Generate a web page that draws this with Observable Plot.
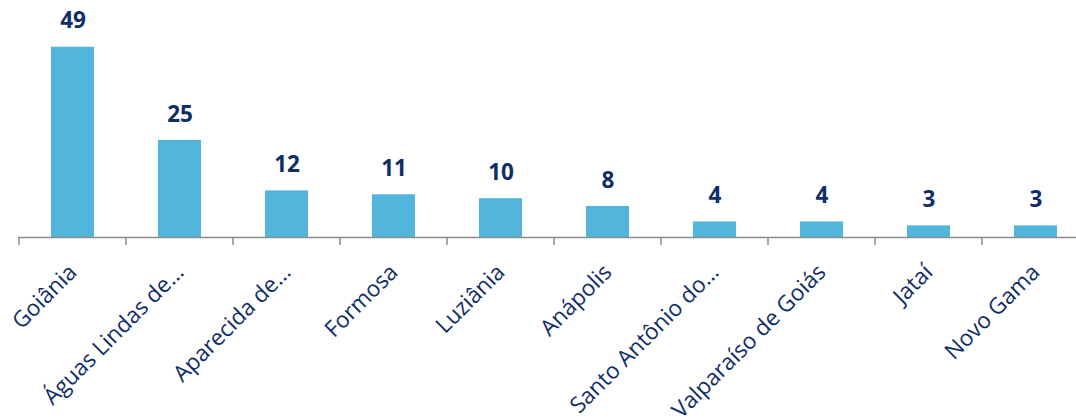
<!DOCTYPE html>
<html>
<head>
<meta charset="utf-8">
<script src="https://cdn.jsdelivr.net/npm/d3@7"></script>
<script src="https://cdn.jsdelivr.net/npm/@observablehq/plot@0.6"></script>
<style>
  html, body { margin: 0; padding: 0; background: #fff; overflow: hidden; }
  #chart svg { display: block; overflow: hidden; }
</style>
</head>
<body>
<div id="chart"></div>
<script>
const categories = ["Goiânia", "Águas Lindas de…", "Aparecida de…", "Formosa", "Luziânia", "Anápolis", "Santo Antônio do…", "Valparaíso de Goiás", "Jataí", "Novo Gama"];
const values = [49, 25, 12, 11, 10, 8, 4, 4, 3, 3];

const data = categories.map((c, i) => ({category: c, value: values[i]}));

const navy = "#0F2D69";
const barColor = "#52B5DB";
const axisColor = "#8C8C8C";

function boundaryTicks(index, scales, values, dimensions, context) {
  const x = scales.x, y = scales.y;
  const step = x.step ? x.step() : (x(categories[1]) - x(categories[0]));
  const bw = x.bandwidth ? x.bandwidth() : 0;
  const y0 = y(0);
  const g = d3.create("svg:g");
  const edges = categories.map(c => x(c) + bw / 2 - step / 2);
  edges.push(x(categories[categories.length - 1]) + bw / 2 + step / 2);
  for (const e of edges) {
    g.append("line")
      .attr("x1", e).attr("x2", e)
      .attr("y1", y0).attr("y2", y0 + 8)
      .attr("stroke", axisColor).attr("stroke-width", 1.5);
  }
  return g.node();
}

const chart = Plot.plot({
  width: 1076,
  height: 419,
  marginLeft: 18,
  marginRight: -14,
  marginTop: 4,
  marginBottom: 182,
  style: {fontFamily: "'Open Sans', sans-serif", background: "#fff"},
  x: {domain: categories, paddingInner: 0.6, paddingOuter: 0.3, label: null},
  y: {domain: [0, 60], axis: null},
  marks: [
    Plot.barY(data, {x: "category", y: "value", fill: barColor}),
    Plot.ruleY([0], {stroke: axisColor, strokeWidth: 1.5}),
    boundaryTicks,
    Plot.text(data, {x: "category", y: "value", text: d => String(d.value), dy: -26, fontSize: 22.5, fontWeight: "bold", fill: navy}),
    Plot.axisX({tickRotate: -45, tickSize: 0, tickPadding: 31, fontSize: 22.5, fill: navy, label: null})
  ]
});
document.getElementById("chart").appendChild(chart);
</script>
</body>
</html>
